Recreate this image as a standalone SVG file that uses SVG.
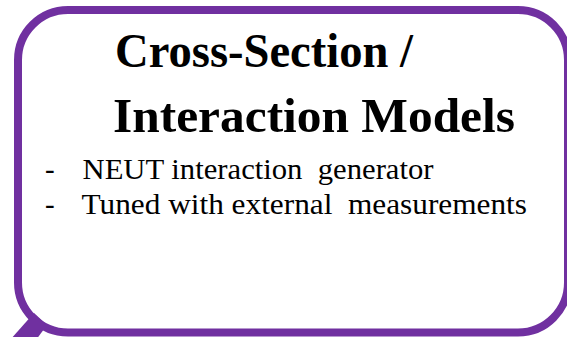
<svg xmlns="http://www.w3.org/2000/svg" width="567" height="337" viewBox="0 0 567 337">
<style>
.frame{fill:#ffffff;stroke:#7030A0;stroke-width:8}
.tail{fill:#7030A0}
.title{font-family:"Liberation Serif","Times New Roman",serif;font-weight:bold;font-size:49px;fill:#000}
.body{font-family:"Liberation Serif","Times New Roman",serif;font-size:29px;fill:#000}
</style>
<rect width="567" height="337" fill="#ffffff"/>
<g id="callout">
<rect class="frame" x="18" y="10" width="550" height="322.5" rx="50" ry="50"/>
<polygon class="tail" points="34,313 47,325 36,340 10,340"/>
<text class="title" x="115" y="67" textLength="298" lengthAdjust="spacingAndGlyphs">Cross-Section /</text>
<text class="title" x="113" y="132" textLength="402" lengthAdjust="spacingAndGlyphs">Interaction Models</text>
<text class="body" x="45" y="179">-</text>
<text class="body" x="82.5" y="179" textLength="351" lengthAdjust="spacingAndGlyphs" xml:space="preserve">NEUT interaction  generator</text>
<text class="body" x="45" y="214">-</text>
<text class="body" x="81.5" y="214" textLength="445.5" lengthAdjust="spacingAndGlyphs" xml:space="preserve">Tuned with external  measurements</text>
</g>
<g id="connectors"/>
</svg>
